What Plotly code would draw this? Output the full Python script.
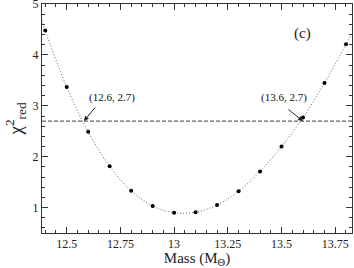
import plotly.graph_objects as go

mass = [12.4, 12.5, 12.6, 12.7, 12.8, 12.9, 13.0, 13.1, 13.2, 13.3, 13.4, 13.5, 13.6, 13.7, 13.8]
chi2 = [4.48, 3.37, 2.49, 1.81, 1.33, 1.03, 0.90, 0.91, 1.05, 1.32, 1.71, 2.20, 2.77, 3.45, 4.21]
# fit curve values at the plot edges
fit_edge_x = [12.385, 13.828]
fit_edge_y = [4.68, 4.43]
threshold = 2.7
x_range = [12.385, 13.828]
y_range = [0.5, 5.002]

serif = "Liberation Serif, Times New Roman, serif"

fit_x = [fit_edge_x[0]] + mass + [fit_edge_x[1]]
fit_y = [fit_edge_y[0]] + chi2 + [fit_edge_y[1]]

fig = go.Figure()
fig.add_trace(go.Scatter(x=fit_x, y=fit_y, mode="lines", line=dict(color="#666666", width=1, dash="1px,2px", shape="spline"), hoverinfo="skip"))
fig.add_trace(go.Scatter(x=mass, y=chi2, mode="markers", marker=dict(color="black", size=4)))
fig.add_trace(go.Scatter(x=x_range, y=[threshold, threshold], mode="lines", line=dict(color="#666666", width=1.2, dash="4px,2px")))

axis_common = dict(showline=True, linecolor="#333333", linewidth=1, mirror="allticks", ticks="inside", ticklen=6,
                   tickcolor="#333333", showgrid=False, zeroline=False, automargin=False,
                   ticklabeloverflow="allow",
                   tickfont=dict(family=serif, size=12, color="#222222"))

fig.update_xaxes(range=x_range, tickvals=[12.5, 12.75, 13, 13.25, 13.5, 13.75],
                 ticktext=["12.5", "12.75", "13", "13.25", "13.5", "13.75"],
                 minor=dict(dtick=0.05, ticklen=3, ticks="inside", tickcolor="#333333"),
                 title=dict(text="Mass (M<sub>Θ</sub>)", font=dict(family=serif, size=15, color="#222222"), standoff=6),
                 **axis_common)
fig.update_yaxes(range=y_range, tickvals=[1, 2, 3, 4, 5],
                 minor=dict(dtick=0.2, ticklen=3, ticks="inside", tickcolor="#333333"),
                 title=dict(text="χ<sup>2</sup><sub>red</sub>", font=dict(family=serif, size=19, color="#222222"), standoff=4),
                 **axis_common)

fig.add_annotation(x=12.58, y=threshold, ax=96.7 - 84.3, ay=-(118.3 - 103.3), axref="pixel", ayref="pixel",
                   text="", showarrow=True, arrowhead=2, arrowsize=1, arrowwidth=1, arrowcolor="#222222")
fig.add_annotation(x=12.595, y=3.16, text="(12.6, 2.7)", showarrow=False, xanchor="left", xref="x", yref="y",
                   font=dict(family=serif, size=11, color="#111111"))
fig.add_annotation(x=13.6, y=threshold, ax=283.7 - 299.7, ay=-(120 - 107.3), axref="pixel", ayref="pixel",
                   text="", showarrow=True, arrowhead=2, arrowsize=1, arrowwidth=1, arrowcolor="#222222")
fig.add_annotation(x=13.51, y=3.16, text="(13.6, 2.7)", showarrow=False, xanchor="center",
                   font=dict(family=serif, size=11, color="#111111"))
fig.add_annotation(x=0.875, y=0.915, xref="paper", yref="paper", text="(c)", showarrow=False,
                   font=dict(family=serif, size=15, color="#222222"))

fig.update_layout(width=354, height=268, margin=dict(l=42, r=2, t=4, b=35), showlegend=False,
                  plot_bgcolor="white", paper_bgcolor="white")
fig.write_html("out.html", config={"displayModeBar": False},
               post_script="document.body.style.margin='0px';")
